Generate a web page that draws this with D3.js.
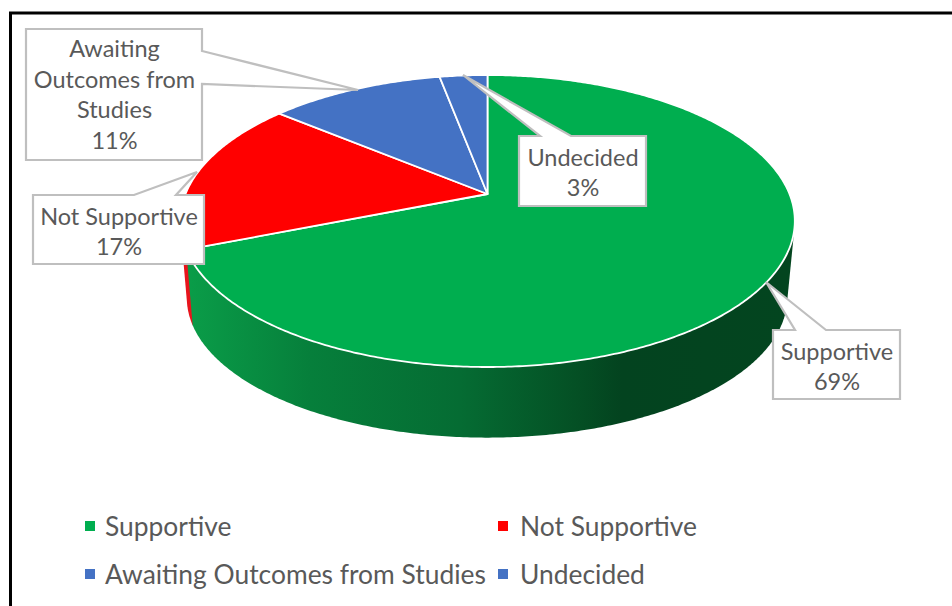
<!DOCTYPE html>
<html><head><meta charset="utf-8">
<script src="https://cdnjs.cloudflare.com/ajax/libs/d3/7.8.5/d3.min.js"></script>
<style>html,body{margin:0;padding:0;background:#fff}svg{display:block}text{font-family:Lato,"Open Sans",sans-serif;fill:#595959}</style>
</head><body><svg id="c" width="952" height="606"></svg>
<script>
const categories = ["Supportive","Not Supportive","Awaiting Outcomes from Studies","Undecided"];
const values = [69,17,11,3];
const colors = ["#00ae4f","#ff0000","#4472c4","#4472c4"];
const wallColors = ["url(#wall)","#e8141c","#3a62a8","#3a62a8"];
const labelLines = [["Supportive"],["Not Supportive"],["Awaiting","Outcomes from","Studies"],["Undecided"]];

const svg = d3.select("#c");
const defs = svg.append("defs");
const grad = defs.append("linearGradient").attr("id","wall").attr("gradientUnits","userSpaceOnUse")
  .attr("x1",190).attr("x2",790).attr("y1",0).attr("y2",0);
[[0,"#0a9c48"],[0.2,"#067f3b"],[0.45,"#056c33"],[0.65,"#044f24"],[0.72,"#03431f"],[1,"#03451f"]]
  .forEach(s=>grad.append("stop").attr("offset",s[0]).attr("stop-color",s[1]));

// frame
svg.append("path").attr("d","M10.5,606V13H952").attr("fill","none").attr("stroke","#000").attr("stroke-width",3);

// perspective: a unit circle seen from the front, the far side foreshortened
const k = 0.185;
const topX = d3.scaleLinear().domain([-1,1]).range([185.5,789.5]);
const topY = d3.scaleLinear().domain([-1,1]).range([53,335]);
const botX = d3.scaleLinear().domain([-1,1]).range([192,782]);
const botY = d3.scaleLinear().domain([-1,1]).range([137,407]);
const project = (sx,sy,a)=>{
  const w = 1 + k*Math.cos(a);
  return [sx(Math.sin(a)/w), sy(-Math.cos(a)/w)];
};
const line = d3.line();
const pie = d3.pie().sort(null).startAngle(0).endAngle(2*Math.PI)(values);
const rim = (sx,sy,a0,a1)=>{
  const n = Math.max(2,Math.ceil((a1-a0)/0.01));
  return d3.range(n+1).map(i=>project(sx,sy,a0+(a1-a0)*i/n));
};
// walls, back to front: the hull of both rims also closes the silhouette
const order = [1,2,3,0];
order.forEach(i=>{
  const p = pie[i];
  const pts = rim(topX,topY,p.startAngle,p.endAngle).concat(rim(botX,botY,p.startAngle,p.endAngle));
  svg.append("path").attr("d",line(d3.polygonHull(pts))+"Z").attr("fill",wallColors[i]);
});
// top faces
const apex = [topX(0),topY(0)];
pie.forEach((p,i)=>{
  const pts = [apex].concat(rim(topX,topY,p.startAngle,p.endAngle));
  svg.append("path").attr("d",line(pts)+"Z").attr("fill",colors[i])
    .attr("stroke","#fff").attr("stroke-width",1.8).attr("stroke-linejoin","round");
});

// callouts: box, pointer base on one side, tip on the slice
const callouts = [
 {i:0,x:773,y:330,w:127,h:69,tip:[766,282],side:"top",a:795,b:826,dy:2},
 {i:1,x:33,y:195,w:171,h:69,tip:[197,172],side:"top",a:134,b:176,dy:2},
 {i:2,x:26,y:29,w:176,h:131,tip:[358,90],side:"right",a:51,b:84,dy:0},
 {i:3,x:519,y:136,w:127,h:70,tip:[463,75],side:"top",a:540,b:571,dy:1.5}
];
callouts.forEach(c=>{
  const {x,y,w,h,tip,a,b}=c;
  const pts = c.side==="top"
    ? [[x,y],[a,y],tip,[b,y],[x+w,y],[x+w,y+h],[x,y+h]]
    : [[x,y],[x+w,y],[x+w,a],tip,[x+w,b],[x+w,y+h],[x,y+h]];
  svg.append("path").attr("d",line(pts)+"Z").attr("fill","#fff").attr("stroke","#bfbfbf").attr("stroke-width",2.2);
  const lines = labelLines[c.i].concat([values[c.i]+"%"]);
  const lh = 30.5;
  const t0 = y+h/2-(lines.length-1)*lh/2+8.5+c.dy;
  lines.forEach((s,j)=>svg.append("text").attr("x",x+w/2+0.5).attr("y",t0+j*lh)
    .attr("text-anchor","middle").attr("font-size",23.5).text(s));
});

// legend
const legendX = [85,498], legendY = [526,574];
categories.forEach((c,i)=>{
  const lx = legendX[i%2], ly = legendY[Math.floor(i/2)];
  svg.append("rect").attr("x",lx).attr("y",ly-5).attr("width",10).attr("height",10).attr("fill",colors[i]);
  svg.append("text").attr("x",lx+(i%2?22:20)).attr("y",ly+9.5).attr("font-size",26.4).text(c);
});
</script></body></html>
